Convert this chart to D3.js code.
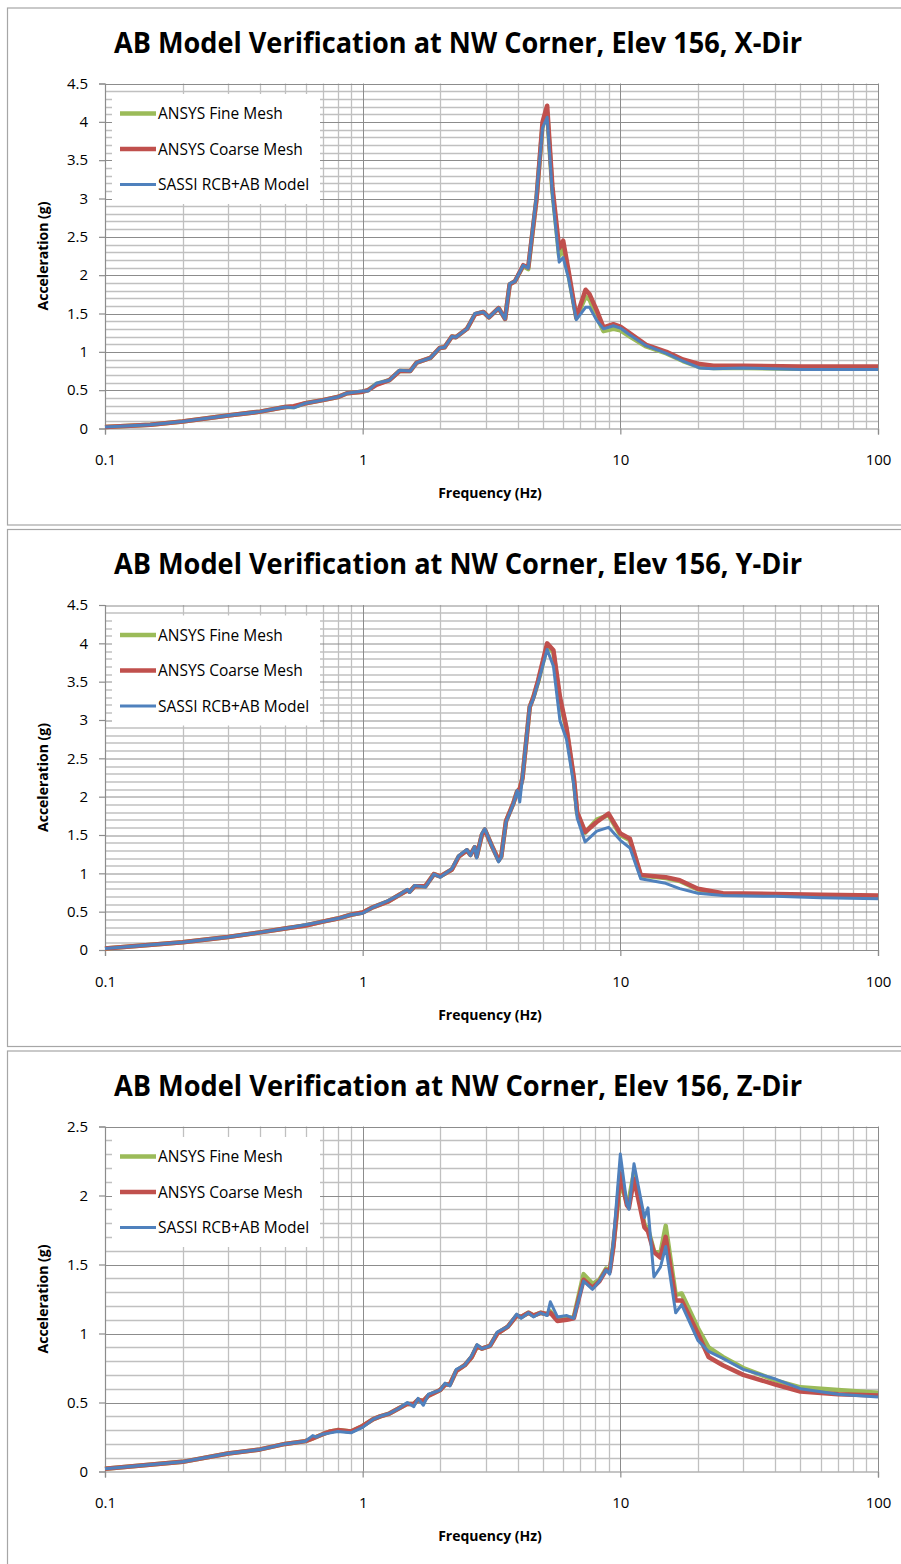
<!DOCTYPE html>
<html><head><meta charset="utf-8">
<script src="https://cdn.jsdelivr.net/npm/d3@7"></script>
<style>
html,body{margin:0;padding:0;background:#fff;}
svg{display:block;}
</style></head>
<body>
<svg id="chart" width="901" height="1564"></svg>
<script>
// ---------- DATA ----------
const seriesNames = ["ANSYS Fine Mesh", "ANSYS Coarse Mesh", "SASSI RCB+AB Model"];
const titles = [
  "AB Model Verification at NW Corner, Elev 156, X-Dir",
  "AB Model Verification at NW Corner, Elev 156, Y-Dir",
  "AB Model Verification at NW Corner, Elev 156, Z-Dir"
];
const xTickLabels = ["0.1", "1", "10", "100"];
const yTicksXY = ["0", "0.5", "1", "1.5", "2", "2.5", "3", "3.5", "4", "4.5"];
const yTicksZ = ["0", "0.5", "1", "1.5", "2", "2.5"];

// X-Dir
const freqX = [0.1,0.15,0.2,0.3,0.4,0.5,0.54,0.6,0.7,0.8,0.87,1.0,1.05,1.13,1.27,1.39,1.53,1.62,1.83,1.99,2.08,2.22,2.3,2.54,2.73,2.94,3.09,3.37,3.57,3.72,3.9,4.2,4.39,4.73,4.99,5.2,5.45,5.79,6.0,6.3,6.75,7.33,7.6,8.1,8.6,9.4,10,10.9,12.6,15.1,17.5,20.3,23,30,50,100];
const fineX = [0.02,0.05,0.09,0.17,0.22,0.28,0.28,0.33,0.37,0.41,0.46,0.48,0.50,0.58,0.63,0.75,0.75,0.86,0.92,1.05,1.06,1.2,1.19,1.3,1.49,1.52,1.45,1.57,1.43,1.88,1.92,2.12,2.08,3.0,3.95,4.12,3.1,2.25,2.35,2.0,1.44,1.72,1.68,1.45,1.27,1.30,1.28,1.20,1.07,0.98,0.88,0.80,0.79,0.79,0.78,0.78];
const coarseX = [0.02,0.05,0.09,0.17,0.22,0.28,0.29,0.33,0.37,0.41,0.46,0.48,0.50,0.57,0.63,0.75,0.75,0.86,0.92,1.05,1.06,1.2,1.19,1.3,1.49,1.52,1.45,1.57,1.43,1.88,1.92,2.13,2.10,3.0,4.0,4.21,3.15,2.35,2.45,2.05,1.45,1.81,1.75,1.54,1.32,1.36,1.33,1.24,1.09,1.0,0.9,0.84,0.82,0.82,0.81,0.81];
const sassiX = [0.02,0.05,0.09,0.17,0.22,0.28,0.27,0.33,0.37,0.41,0.46,0.49,0.49,0.59,0.63,0.76,0.75,0.86,0.92,1.05,1.06,1.2,1.19,1.3,1.5,1.52,1.45,1.57,1.43,1.89,1.92,2.13,2.09,3.05,3.92,4.06,3.05,2.17,2.23,1.95,1.42,1.58,1.58,1.41,1.30,1.34,1.31,1.22,1.08,0.98,0.88,0.79,0.78,0.79,0.77,0.77];

// Y-Dir
const freqY = [0.1,0.2,0.3,0.4,0.5,0.6,0.7,0.8,0.9,1.0,1.1,1.25,1.39,1.49,1.52,1.59,1.75,1.89,2.0,2.22,2.36,2.54,2.62,2.72,2.77,2.9,2.98,3.17,3.37,3.45,3.6,3.85,3.98,4.07,4.17,4.45,4.6,4.8,5.2,5.5,5.83,6.18,6.6,6.8,7.3,8.1,9.0,10,10.9,12,15,17,20,25,40,60,100];
const fineY = [0.02,0.1,0.17,0.23,0.28,0.32,0.37,0.41,0.46,0.49,0.56,0.63,0.72,0.78,0.76,0.83,0.83,0.99,0.96,1.05,1.22,1.3,1.24,1.34,1.22,1.5,1.57,1.36,1.17,1.22,1.68,1.92,2.07,2.1,2.24,3.17,3.3,3.5,3.97,3.88,3.25,2.88,2.22,1.78,1.53,1.70,1.76,1.50,1.43,0.97,0.94,0.90,0.79,0.73,0.72,0.71,0.70];
const coarseY = [0.02,0.1,0.17,0.23,0.28,0.32,0.37,0.41,0.46,0.49,0.56,0.63,0.72,0.78,0.76,0.83,0.83,0.99,0.96,1.05,1.22,1.3,1.24,1.34,1.22,1.5,1.57,1.36,1.17,1.22,1.68,1.92,2.07,2.1,2.24,3.17,3.3,3.52,4.0,3.91,3.30,2.90,2.25,1.80,1.54,1.67,1.78,1.52,1.45,0.98,0.95,0.91,0.80,0.74,0.73,0.72,0.71];
const sassiY = [0.02,0.1,0.17,0.23,0.28,0.33,0.37,0.41,0.46,0.48,0.56,0.64,0.72,0.79,0.75,0.84,0.82,0.99,0.95,1.06,1.23,1.31,1.23,1.35,1.2,1.52,1.58,1.36,1.15,1.21,1.67,1.91,2.08,1.93,2.25,3.17,3.28,3.49,3.92,3.70,2.99,2.75,2.15,1.72,1.41,1.55,1.60,1.43,1.33,0.93,0.87,0.80,0.74,0.71,0.70,0.68,0.67];

// Z-Dir
const freqZ = [0.1,0.2,0.3,0.4,0.5,0.6,0.64,0.66,0.7,0.75,0.8,0.9,1.0,1.1,1.17,1.27,1.39,1.49,1.58,1.64,1.72,1.8,2.0,2.09,2.18,2.31,2.49,2.65,2.78,2.9,3.12,3.33,3.66,3.96,4.12,4.4,4.6,4.9,5.2,5.35,5.7,6.2,6.6,7.2,7.8,8.3,8.8,9.1,9.4,10,10.6,10.8,11.3,12.4,12.8,13.5,14.3,15,16.4,17.3,20,22,25,30,40,50,70,100];
const fineZ = [0.02,0.07,0.13,0.16,0.2,0.22,0.24,0.25,0.27,0.29,0.30,0.29,0.33,0.38,0.40,0.42,0.46,0.49,0.49,0.52,0.51,0.55,0.59,0.63,0.63,0.73,0.77,0.83,0.91,0.89,0.91,1.0,1.05,1.13,1.12,1.15,1.13,1.15,1.14,1.16,1.10,1.11,1.12,1.43,1.36,1.39,1.47,1.46,1.64,2.10,1.95,1.97,2.17,1.79,1.76,1.60,1.58,1.78,1.28,1.29,1.04,0.90,0.83,0.75,0.66,0.61,0.59,0.57];
const coarseZ = [0.02,0.07,0.13,0.16,0.2,0.22,0.24,0.25,0.27,0.29,0.30,0.29,0.33,0.38,0.40,0.42,0.46,0.49,0.49,0.52,0.51,0.55,0.59,0.63,0.63,0.73,0.77,0.83,0.91,0.89,0.91,1.0,1.05,1.13,1.12,1.15,1.13,1.15,1.14,1.15,1.09,1.10,1.11,1.39,1.33,1.38,1.46,1.45,1.63,2.16,1.93,1.91,2.12,1.77,1.74,1.59,1.55,1.70,1.24,1.24,1.0,0.83,0.77,0.70,0.63,0.58,0.56,0.55];
const sassiZ = [0.02,0.07,0.13,0.16,0.2,0.22,0.26,0.25,0.27,0.28,0.29,0.28,0.32,0.38,0.40,0.42,0.46,0.50,0.47,0.53,0.48,0.56,0.59,0.64,0.62,0.74,0.77,0.84,0.92,0.89,0.91,1.01,1.05,1.14,1.11,1.15,1.12,1.15,1.13,1.23,1.12,1.13,1.11,1.38,1.32,1.38,1.46,1.43,1.67,2.30,1.94,1.90,2.23,1.84,1.91,1.41,1.48,1.63,1.15,1.21,0.95,0.87,0.82,0.74,0.67,0.60,0.56,0.54];

// ---------- DRAW ----------
const colors = ["#9bbb59", "#c0504d", "#4f81bd"];
const widths = [4.5, 4.5, 3];
const svg = d3.select("#chart");
const FONT = "'Open Sans', 'Liberation Sans', sans-serif";

const panels = [
  {top: 8, title: titles[0], freq: freqX, series: [fineX, coarseX, sassiX], yTicks: yTicksXY},
  {top: 529.5, title: titles[1], freq: freqY, series: [fineY, coarseY, sassiY], yTicks: yTicksXY},
  {top: 1051, title: titles[2], freq: freqZ, series: [fineZ, coarseZ, sassiZ], yTicks: yTicksZ}
];

panels.forEach(p => {
  const g = svg.append("g").attr("transform", `translate(0,${p.top})`);
  // panel border
  g.append("rect").attr("x", 7.5).attr("y", 0).attr("width", 900).attr("height", 517)
    .attr("fill", "#fff").attr("stroke", "#a6a6a6").attr("stroke-width", 1.2);

  const L = 105, R = 878, T = 75.5, B = 420.5;
  const x = d3.scaleLog().domain([0.1, 100]).range([L, R]);
  const yVals = p.yTicks.map(Number);
  const yMax = d3.max(yVals);
  const y = d3.scaleLinear().domain([0, yMax]).range([B, T]);

  // title
  g.append("text").attr("x", 458).attr("y", 44.5).attr("text-anchor", "middle")
    .attr("font-family", FONT).attr("font-weight", "bold").attr("font-size", 29)
    .attr("textLength", 688).attr("lengthAdjust", "spacingAndGlyphs")
    .attr("fill", "#000").text(p.title);

  // minor horizontal grid (every 0.1)
  const minorY = d3.range(1, Math.round(yMax * 10)).map(d => d / 10).filter(d => Math.abs(d * 2 - Math.round(d * 2)) > 1e-6);
  g.append("g").selectAll("line").data(minorY).join("line")
    .attr("x1", L).attr("x2", R).attr("y1", d => Math.round(y(d)) + 0.5).attr("y2", d => Math.round(y(d)) + 0.5)
    .attr("stroke", "#c0c0c0").attr("stroke-width", 1.3);
  // minor vertical grid
  const minorX = [];
  [0.1, 1, 10].forEach(dec => { for (let k = 2; k <= 9; k++) minorX.push(dec * k); });
  g.append("g").selectAll("line").data(minorX).join("line")
    .attr("x1", d => Math.round(x(d)) + 0.5).attr("x2", d => Math.round(x(d)) + 0.5).attr("y1", T).attr("y2", B)
    .attr("stroke", "#c0c0c0").attr("stroke-width", 1.3);
  // major horizontal grid
  g.append("g").selectAll("line").data(yVals.filter(d => d > 0)).join("line")
    .attr("x1", L).attr("x2", R).attr("y1", d => Math.round(y(d)) + 0.5).attr("y2", d => Math.round(y(d)) + 0.5)
    .attr("stroke", "#8c8c8c").attr("stroke-width", 1);
  // major vertical grid
  const majorX = xTickLabels.map(Number);
  g.append("g").selectAll("line").data(majorX.filter(d => d > 0.1)).join("line")
    .attr("x1", d => Math.round(x(d)) + 0.5).attr("x2", d => Math.round(x(d)) + 0.5).attr("y1", T).attr("y2", B)
    .attr("stroke", "#8c8c8c").attr("stroke-width", 1);

  // axes
  const yAxis = d3.axisLeft(y).tickValues(yVals).tickSize(6).tickPadding(11)
    .tickFormat((d, i) => p.yTicks[i]);
  const ya = g.append("g").attr("transform", `translate(${L},0)`).call(yAxis);
  const xAxis = d3.axisBottom(x).tickValues(majorX).tickSize(6).tickPadding(20)
    .tickFormat((d, i) => xTickLabels[i]);
  const xa = g.append("g").attr("transform", `translate(0,${B})`).call(xAxis);
  [ya, xa].forEach(a => {
    a.select(".domain").attr("stroke", "#8c8c8c").attr("stroke-width", 1.2);
    a.selectAll(".tick line").attr("stroke", "#8c8c8c").attr("stroke-width", 1.2);
    a.selectAll(".tick text").attr("font-family", FONT).attr("font-size", 15).attr("fill", "#000");
  });

  // axis titles
  g.append("text").attr("transform", `translate(48,${(T + B) / 2}) rotate(-90)`)
    .attr("text-anchor", "middle").attr("font-family", FONT).attr("font-weight", "bold")
    .attr("font-size", 14).attr("fill", "#000").text("Acceleration (g)");
  g.append("text").attr("x", 490).attr("y", 490).attr("text-anchor", "middle")
    .attr("font-family", FONT).attr("font-weight", "bold").attr("font-size", 14)
    .attr("fill", "#000").text("Frequency (Hz)");

  // series
  const line = d3.line().x(d => x(d[0])).y(d => y(d[1]));
  p.series.forEach((vals, i) => {
    const pts = p.freq.map((f, k) => [f, vals[k]]);
    g.append("path").datum(pts).attr("d", line).attr("fill", "none")
      .attr("stroke", colors[i]).attr("stroke-width", widths[i]).attr("stroke-linejoin", "round");
  });

  // legend
  const lg = g.append("g");
  lg.append("rect").attr("x", 112).attr("y", 86).attr("width", 208).attr("height", 110).attr("fill", "#fff");
  seriesNames.forEach((name, i) => {
    const yy = 105.5 + i * 35.5;
    lg.append("line").attr("x1", 120).attr("x2", 156).attr("y1", yy).attr("y2", yy)
      .attr("stroke", colors[i]).attr("stroke-width", i < 2 ? 4.5 : 3);
    lg.append("text").attr("x", 158).attr("y", yy + 5.5).attr("font-family", FONT)
      .attr("font-size", 15.5).attr("fill", "#000").text(name);
  });
});
</script>
</body></html>
